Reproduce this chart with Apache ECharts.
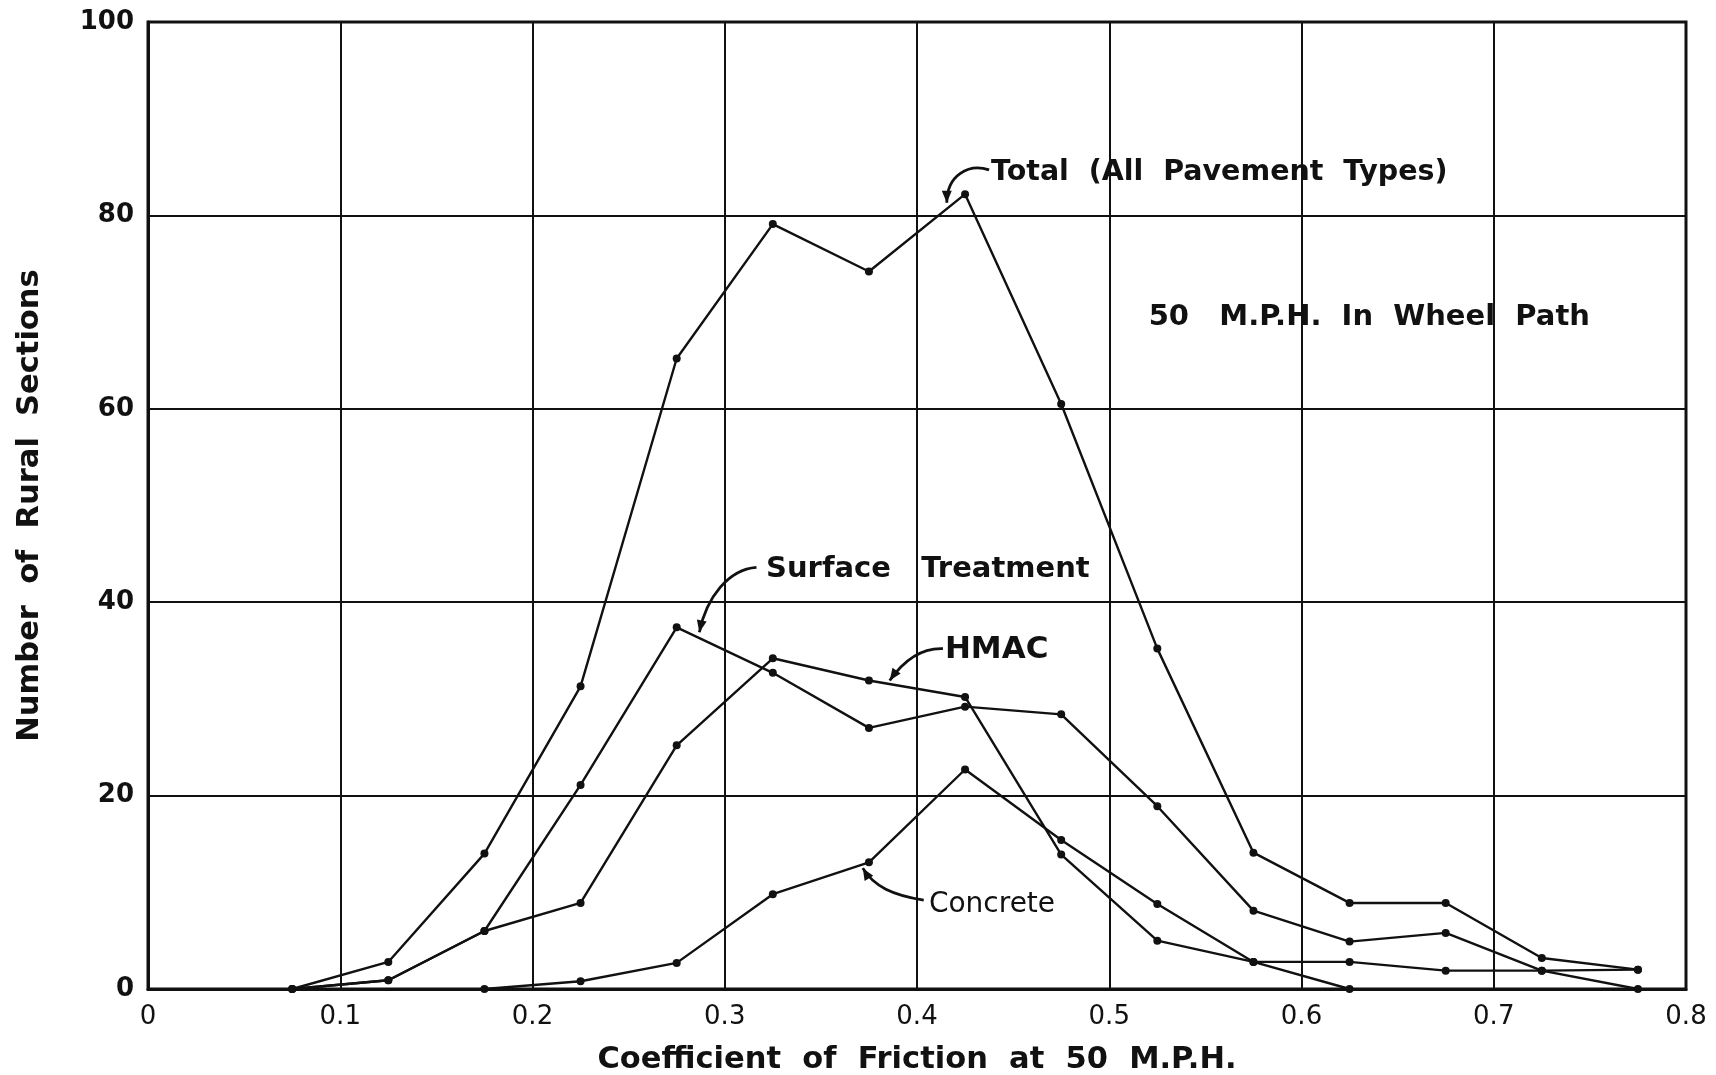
<!DOCTYPE html>
<html>
<head>
<meta charset="utf-8">
<title>Coefficient of Friction at 50 M.P.H.</title>
<script src="https://cdn.jsdelivr.net/npm/echarts@6/dist/echarts.min.js"></script>
<style>
  html, body { margin: 0; padding: 0; background: #ffffff; }
  #chart { width: 1716px; height: 1075px; }
</style>
</head>
<body>
<div id="chart"></div>
<script>
// Friction-class midpoints (x) and number of rural sections in each class
const frictionBins = [0.075, 0.125, 0.175, 0.225, 0.275, 0.325, 0.375, 0.425, 0.475, 0.525, 0.575, 0.625, 0.675, 0.725, 0.775];
const totalCounts = [0, 2.8, 14.0, 31.3, 65.2, 79.1, 74.2, 82.2, 60.5, 35.2, 14.1, 8.9, 8.9, 3.2, 2.0];
const surfaceTreatmentCounts = [0, 0.9, 6.0, 21.1, 37.4, 32.7, 27.0, 29.2, 28.4, 18.9, 8.1, 4.9, 5.8, 1.9, 0];
const hmacCounts = [0, 0.9, 6.0, 8.9, 25.2, 34.2, 31.9, 30.2, 13.9, 5.0, 2.8, 2.8, 1.9, 1.9, 2.0];
const concreteCounts = [null, null, 0, 0.8, 2.7, 9.8, 13.1, 22.7, 15.4, 8.8, 2.8, 0, null, null, null];

// Axis ticks
const xTicks = [0, 0.1, 0.2, 0.3, 0.4, 0.5, 0.6, 0.7, 0.8];
const yTicks = [0, 20, 40, 60, 80, 100];

// Curved leader labels, placed in data units
const callouts = [
  { text: 'Total  (All  Pavement  Types)', size: 28.5, weight: 'bold', at: [0.4385, 84.4], from: [0.4375, 84.7], c1: [0.427, 85.4], c2: [0.4155, 84.2], to: [0.4155, 81.3] },
  { text: 'Surface   Treatment', size: 29, weight: 'bold', at: [0.3215, 43.4], from: [0.3165, 43.6], c1: [0.302, 43.4], c2: [0.2905, 40.5], to: [0.2868, 36.9] },
  { text: 'HMAC', size: 31, weight: 'bold', at: [0.4145, 35.1], from: [0.4135, 35.2], c1: [0.401, 35.3], c2: [0.3925, 33.8], to: [0.3858, 31.9] },
  { text: 'Concrete', size: 28, weight: 'normal', at: [0.4062, 8.7], from: [0.4035, 9.2], c1: [0.3875, 9.7], c2: [0.3775, 10.6], to: [0.3718, 12.5] }
];
const noteText = '50   M.P.H.  In  Wheel  Path';
const noteAt = [0.5205, 69.4];

const FONT = '"DejaVu Sans", Verdana, sans-serif';

function pairs(values) {
  const out = [];
  values.forEach((v, i) => { if (v !== null) out.push([frictionBins[i], v]); });
  return out;
}

function lineSeries(name, values) {
  return {
    name: name,
    type: 'line',
    data: pairs(values),
    symbol: 'circle',
    symbolSize: 8,
    showSymbol: true,
    lineStyle: { color: '#111', width: 2.4 },
    itemStyle: { color: '#111' },
    emphasis: { disabled: true },
    animation: false,
    z: 5
  };
}

const chart = echarts.init(document.getElementById('chart'), null, { renderer: 'canvas' });

chart.setOption({
  backgroundColor: '#ffffff',
  animation: false,
  grid: {
    left: 148, right: 30, top: 22, bottom: 86,
    outerBoundsMode: 'none',
    containLabel: false,
    show: true, borderColor: '#111', borderWidth: 3, backgroundColor: 'transparent'
  },
  xAxis: {
    type: 'value',
    min: xTicks[0],
    max: xTicks[xTicks.length - 1],
    interval: 0.1,
    name: 'Coefficient  of  Friction  at  50  M.P.H.',
    nameLocation: 'middle',
    nameGap: 56,
    nameTextStyle: { fontFamily: FONT, fontSize: 30.5, fontWeight: 'bold', color: '#111' },
    axisLine: { show: true, lineStyle: { color: '#111', width: 3 } },
    axisTick: { show: false },
    axisLabel: {
      fontFamily: FONT, fontSize: 26, color: '#111', margin: 15,
      formatter: v => (Math.abs(v) < 1e-9 ? '0' : v.toFixed(1)),
      showMaxLabel: true, showMinLabel: true
    },
    splitLine: { show: true, lineStyle: { color: '#111', width: 2 } }
  },
  yAxis: {
    type: 'value',
    min: yTicks[0],
    max: yTicks[yTicks.length - 1],
    interval: 20,
    name: 'Number  of  Rural  Sections',
    nameLocation: 'middle',
    nameGap: 102,
    nameRotate: 90,
    nameTextStyle: { fontFamily: FONT, fontSize: 30.5, fontWeight: 'bold', color: '#111' },
    axisLine: { show: true, lineStyle: { color: '#111', width: 3 } },
    axisTick: { show: false },
    axisLabel: { fontFamily: FONT, fontSize: 26, fontWeight: 'bold', color: '#111', margin: 14 },
    splitLine: { show: true, lineStyle: { color: '#111', width: 2 } }
  },
  series: [
    lineSeries('Total (All Pavement Types)', totalCounts),
    lineSeries('Surface Treatment', surfaceTreatmentCounts),
    lineSeries('HMAC', hmacCounts),
    lineSeries('Concrete', concreteCounts)
  ]
});

// Leader curves, arrowheads and annotation texts, positioned through the axes
function px(p) { return chart.convertToPixel({ gridIndex: 0 }, p); }

const graphics = [];
callouts.forEach(c => {
  const a = px(c.from), b = px(c.c1), d = px(c.c2), e = px(c.to);
  graphics.push({
    type: 'bezierCurve',
    shape: { x1: a[0], y1: a[1], cpx1: b[0], cpy1: b[1], cpx2: d[0], cpy2: d[1], x2: e[0], y2: e[1] },
    style: { stroke: '#111', lineWidth: 2.8, fill: null },
    z: 10
  });
  // arrowhead oriented along the curve's end tangent
  const dx = e[0] - d[0], dy = e[1] - d[1];
  const len = Math.hypot(dx, dy) || 1;
  const ux = dx / len, uy = dy / len;
  const L = 12, W = 5;
  const bx = e[0] - ux * L, by = e[1] - uy * L;
  graphics.push({
    type: 'polygon',
    shape: { points: [[e[0], e[1]], [bx - uy * W, by + ux * W], [bx + uy * W, by - ux * W]] },
    style: { fill: '#111' },
    z: 10
  });
  const t = px(c.at);
  graphics.push({
    type: 'text',
    x: t[0], y: t[1],
    style: { text: c.text, fontFamily: FONT, fontSize: c.size, fontWeight: c.weight, fill: '#111', align: 'left', verticalAlign: 'middle' },
    z: 11
  });
});
const n = px(noteAt);
graphics.push({
  type: 'text',
  x: n[0], y: n[1],
  style: { text: noteText, fontFamily: FONT, fontSize: 29, fontWeight: 'bold', fill: '#111', align: 'left', verticalAlign: 'middle' },
  z: 11
});

chart.setOption({ graphic: graphics });
</script>
</body>
</html>
